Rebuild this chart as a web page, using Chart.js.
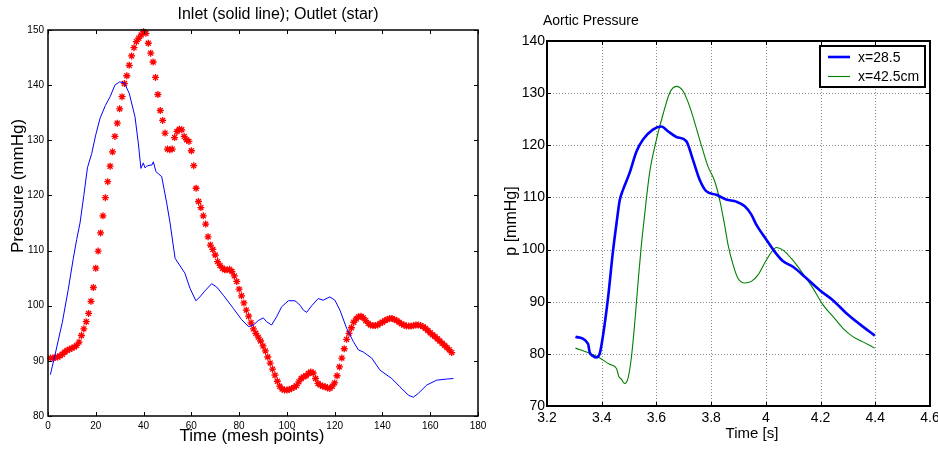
<!DOCTYPE html>
<html>
<head>
<meta charset="utf-8">
<script src="https://cdn.jsdelivr.net/npm/chart.js@4.4.0/dist/chart.umd.min.js"></script>
<style>
  html, body { margin: 0; padding: 0; background: #fff; }
  #wrap { position: relative; width: 938px; height: 449px; overflow: hidden; }
  canvas { position: absolute; top: 0; }
  #left { left: 0; width: 495px; height: 449px; }
  #right { left: 495px; width: 443px; height: 449px; }
</style>
</head>
<body>
<div id="wrap">
  <canvas id="left" width="495" height="449"></canvas>
  <canvas id="right" width="443" height="449"></canvas>
</div>
<script>
// left panel: inlet (line) vs outlet (stars), x = mesh point index
const meshTicks = [0, 20, 40, 60, 80, 100, 120, 140, 160, 180];
const pressureTicks = [80, 90, 100, 110, 120, 130, 140, 150];

const inletT = [1, 3, 6, 8.5, 10.6, 12, 13.4, 15, 16.5, 18.3, 20, 21.8, 24, 26, 28, 30, 32, 34, 36.4,
  37.8, 38.9, 39.9, 40.6, 41.3, 42.7, 43.5, 44.1, 45.2, 47.6, 49.7, 51.1, 53.2, 57.3, 59.4, 61.9,
  63.6, 65.3, 68.5, 70.6, 73.4, 77.6, 81, 84, 86, 88, 90.1, 91.5, 93.6, 95.7, 97.8, 100.6, 103.4,
  105.5, 106.9, 108.3, 110.4, 113.1, 115.2, 118, 120.1, 122.2, 125, 127.8, 129.9, 132, 135.5, 139,
  143.9, 147.3, 150.8, 152.9, 155, 158.5, 162.7, 166.9, 169.7];
const inletP = [87.5, 91.2, 97, 103, 108.6, 112, 115, 120, 125, 127.6, 131, 134, 136.3, 137.9, 140, 140.6, 140.4, 138.5, 134.3,
  129.5, 124.9, 125.9, 125, 125.3, 125.5, 125.5, 126.1, 124.3, 123.4, 118.6, 115, 108.6, 105.9, 103.2, 100.9,
  101.6, 102.5, 104, 103.4, 101.9, 99.5, 97.5, 96.2, 96.5, 97.3, 97.8, 97.1, 96.5, 98, 99.8, 100.9, 100.9,
  100.1, 99.2, 98.8, 100, 101.3, 101, 101.6, 101, 99.2, 95.9, 93.5, 92, 91.6, 90.5, 88.3,
  86.8, 85.3, 83.8, 83.4, 84.1, 85.6, 86.5, 86.7, 86.8];

// outlet pressure at mesh points 1..169
const outletP = [
  90.5, 90.5, 90.6, 90.7, 90.9, 91.2, 91.6, 91.9, 92.1, 92.3,
  92.5, 92.8, 93.4, 94.6, 95.8, 97.1, 98.6, 100.8, 103.3, 106.8,
  109.9, 113.2, 116.3, 119.6, 122.5, 125.3, 127.9, 130.7, 133.1, 135.7,
  137.9, 140.3, 141.7, 143.6, 145.3, 146.8, 147.9, 148.5, 149.1, 149.7,
  149.4, 147.6, 145.8, 144.2, 141.4, 138.3, 135.4, 133.6, 131.3, 128.4,
  128.3, 128.4, 130.5, 131.6, 132.0, 131.9, 130.7, 130.1, 129.8, 128.1,
  125.4, 121.3, 118.9, 117.8, 116.3, 114.8, 112.5, 111.0, 110.2, 109.2,
  108.0, 107.3, 106.8, 106.5, 106.5, 106.6, 106.2, 105.4, 104.4, 103.0,
  101.8, 100.5, 99.2, 98.1, 96.9, 95.8, 95.0, 94.3, 93.6, 92.7,
  91.8, 90.7, 89.6, 88.5, 87.4, 86.3, 85.4, 84.9, 84.7, 84.7,
  84.8, 85.0, 85.2, 85.5, 86.2, 86.8, 87.1, 87.3, 87.7, 88.0,
  87.8, 86.8, 85.9, 85.6, 85.4, 85.3, 85.1, 85.0, 85.4, 86.0,
  87.3, 88.9, 90.5, 92.2, 93.9, 95.0, 96.0, 97.0, 97.6, 98.0,
  98.1, 97.8, 97.3, 96.8, 96.5, 96.4, 96.4, 96.5, 96.8, 97.0,
  97.3, 97.5, 97.7, 97.7, 97.5, 97.3, 97.0, 96.7, 96.5, 96.3,
  96.3, 96.3, 96.4, 96.5, 96.5, 96.4, 96.2, 95.9, 95.5, 95.1,
  94.7, 94.4, 94.0, 93.6, 93.2, 92.8, 92.4, 92.0, 91.5];
const outletMesh = outletP.map((_, i) => i + 1);

// right panel: aortic pressure at two positions
const timeTicks = [3.2, 3.4, 3.6, 3.8, 4, 4.2, 4.4, 4.6];
const aorticTicks = [70, 80, 90, 100, 110, 120, 130, 140];

const t285 = [3.304, 3.35, 3.356, 3.368, 3.38, 3.393, 3.405, 3.423, 3.441, 3.454, 3.466, 3.478, 3.502,
  3.527, 3.551, 3.587, 3.618, 3.642, 3.673, 3.709, 3.733, 3.758, 3.782, 3.819, 3.855, 3.892, 3.923,
  3.947, 3.965, 4.002, 4.032, 4.062, 4.099, 4.142, 4.197, 4.245, 4.294, 4.343, 4.398];
const p285 = [83.3, 81.9, 80.3, 79.6, 79.3, 80.1, 83.6, 90.7, 99.6, 105, 109.5, 111.5, 114.7,
  118.8, 121.1, 123, 123.6, 122.7, 121.6, 120.8, 117.3, 113.4, 111.2, 110.5, 109.6, 109.2, 108.3,
  106.7, 104.8, 101.9, 99.6, 97.8, 96.7, 94.8, 92.2, 90.3, 87.8, 85.7, 83.5];

const t425 = [3.304, 3.356, 3.393, 3.429, 3.454, 3.463, 3.471, 3.484, 3.496, 3.508, 3.52, 3.533, 3.545,
  3.553, 3.575, 3.6, 3.624, 3.648, 3.673, 3.697, 3.721, 3.758, 3.788, 3.813, 3.831, 3.849, 3.862,
  3.88, 3.898, 3.923, 3.947, 3.972, 4.002, 4.039, 4.063, 4.093, 4.13, 4.172, 4.209, 4.245, 4.282,
  4.318, 4.355, 4.398];
const p425 = [81.1, 80.1, 79.2, 78, 77.2, 75.6, 75.2, 74.3, 75.3, 79.1, 85.5, 93.8, 100.9,
  104.8, 114.7, 121.1, 125.9, 130, 131.3, 130.4, 127.5, 121.1, 116, 113.1, 109.6, 104.8, 100.9,
  97.1, 94.5, 93.6, 93.9, 95.2, 98, 100.4, 99.9, 98.3, 95.8, 92.6, 89.4, 87.2, 84.9,
  83.3, 82.3, 81.1];

const FONT = "'Liberation Sans', Arial, sans-serif";
Chart.defaults.font.family = FONT;
Chart.defaults.color = '#000';

const pts = (xs, ys) => xs.map((x, i) => ({ x, y: ys[i] }));
const noPad = (s) => { s.paddingLeft = 0; s.paddingRight = 0; s.paddingTop = 0; s.paddingBottom = 0; };

// box, inward ticks and optional dotted grid
const frame = {
  id: 'frame',
  beforeDatasetsDraw(chart, args, o) {
    if (!o.grid) return;
    const { ctx, chartArea: a, scales: { x, y } } = chart;
    ctx.save();
    ctx.strokeStyle = '#8a8a8a';
    ctx.lineWidth = 1;
    ctx.setLineDash([1, 2]);
    ctx.beginPath();
    x.ticks.forEach((t) => {
      const px = Math.round(x.getPixelForValue(t.value)) + 0.5;
      ctx.moveTo(px, a.top); ctx.lineTo(px, a.bottom);
    });
    y.ticks.forEach((t) => {
      const py = Math.round(y.getPixelForValue(t.value)) + 0.5;
      ctx.moveTo(a.left, py); ctx.lineTo(a.right, py);
    });
    ctx.stroke();
    ctx.restore();
  },
  afterDatasetsDraw(chart, args, o) {
    const { ctx, chartArea: a, scales: { x, y } } = chart;
    const L = o.tick;
    ctx.save();
    ctx.strokeStyle = '#000';
    ctx.lineWidth = 1;
    ctx.beginPath();
    x.ticks.forEach((t) => {
      const px = Math.round(x.getPixelForValue(t.value)) + 0.5;
      ctx.moveTo(px, a.bottom); ctx.lineTo(px, a.bottom - L);
      ctx.moveTo(px, a.top); ctx.lineTo(px, a.top + L);
    });
    y.ticks.forEach((t) => {
      const py = Math.round(y.getPixelForValue(t.value)) + 0.5;
      ctx.moveTo(a.left, py); ctx.lineTo(a.left + L, py);
      ctx.moveTo(a.right, py); ctx.lineTo(a.right - L, py);
    });
    ctx.stroke();
    ctx.lineWidth = o.width;
    ctx.strokeRect(a.left, a.top, a.right - a.left, a.bottom - a.top);
    ctx.restore();
  }
};

const texts = {
  id: 'texts',
  afterDraw(chart, args, o) {
    const ctx = chart.ctx;
    o.items.forEach((it) => {
      ctx.save();
      ctx.font = it.font + ' ' + FONT;
      ctx.fillStyle = '#000';
      ctx.textAlign = it.align || 'center';
      ctx.textBaseline = 'middle';
      ctx.translate(it.x, it.y);
      if (it.rot) ctx.rotate(it.rot);
      ctx.fillText(it.text, 0, 0);
      ctx.restore();
    });
  }
};

const legendBox = {
  id: 'legendBox',
  afterDraw(chart, args, o) {
    const { ctx } = chart;
    const { x, y, w, h } = o;
    ctx.save();
    ctx.fillStyle = '#fff';
    ctx.fillRect(x, y, w, h);
    ctx.strokeStyle = '#000';
    ctx.lineWidth = 2;
    ctx.strokeRect(x, y, w, h);
    ctx.font = '14px ' + FONT;
    ctx.textBaseline = 'middle';
    chart.data.datasets.forEach((ds, i) => {
      const ly = y + 11 + i * 19.5;
      ctx.strokeStyle = ds.borderColor;
      ctx.lineWidth = ds.borderWidth;
      ctx.beginPath();
      ctx.moveTo(x + 8, ly); ctx.lineTo(x + 30, ly);
      ctx.stroke();
      ctx.fillStyle = '#000';
      ctx.fillText(ds.label, x + 38, ly + 1);
    });
    ctx.restore();
  }
};

const axis = (min, max, tickList, size, fitSize, horizontal, padding) => ({
  type: 'linear',
  min, max,
  afterBuildTicks: (s) => { s.ticks = tickList.map((v) => ({ value: v })); },
  afterFit: (s) => { if (horizontal) s.height = fitSize; else s.width = fitSize; noPad(s); },
  grid: { display: false, drawTicks: false },
  border: { display: false },
  ticks: { padding, font: { size }, color: '#000', maxRotation: 0, autoSkip: false, callback: (v) => String(v) }
});

new Chart(document.getElementById('left'), {
  type: 'line',
  data: {
    datasets: [
      { label: 'Inlet', data: pts(inletT, inletP), borderColor: '#0000ff', borderWidth: 1,
        pointRadius: 0, tension: 0 },
      { label: 'Outlet', data: pts(outletMesh, outletP), showLine: false, pointStyle: 'star',
        pointRadius: 3.5, borderColor: '#ff0000', backgroundColor: '#ff0000', borderWidth: 1.3, clip: false }
    ]
  },
  options: {
    responsive: false,
    animation: false,
    layout: { padding: { top: 30, right: 17, left: 0, bottom: 0 } },
    plugins: {
      legend: { display: false },
      tooltip: { enabled: false },
      frame: { tick: 4, width: 1.5, grid: false },
      texts: { items: [
        { text: 'Inlet (solid line); Outlet (star)', font: '16px', x: 278, y: 15 },
        { text: 'Time (mesh points)', font: '17px', x: 252, y: 436 },
        { text: 'Pressure (mmHg)', font: '17px', x: 18, y: 186, rot: -Math.PI / 2 }
      ] }
    },
    scales: {
      x: axis(0, 180, meshTicks, 10, 33, true, 4),
      y: axis(80, 150, pressureTicks, 10, 48, false, 4)
    }
  },
  plugins: [frame, texts]
});

new Chart(document.getElementById('right'), {
  type: 'line',
  data: {
    datasets: [
      { label: 'x=28.5', data: pts(t285, p285), borderColor: '#0000ff', borderWidth: 2.6,
        pointRadius: 0, cubicInterpolationMode: 'monotone' },
      { label: 'x=42.5cm', data: pts(t425, p425), borderColor: '#008000', borderWidth: 1.1,
        pointRadius: 0, cubicInterpolationMode: 'monotone' }
    ]
  },
  options: {
    responsive: false,
    animation: false,
    layout: { padding: { top: 41, right: 8, left: 0, bottom: 0 } },
    plugins: {
      legend: { display: false },
      tooltip: { enabled: false },
      frame: { tick: 4, width: 2, grid: true },
      legendBox: { x: 325, y: 46, w: 105, h: 41 },
      texts: { items: [
        { text: 'Aortic Pressure', font: '14px', x: 48, y: 21, align: 'left' },
        { text: 'Time [s]', font: '15px', x: 257, y: 434 },
        { text: 'p [mmHg]', font: '16px', x: 17, y: 221, rot: -Math.PI / 2 }
      ] }
    },
    scales: {
      x: axis(3.2, 4.6, timeTicks, 14, 43, true, 4),
      y: axis(70, 140, aorticTicks, 14, 52, false, 2)
    }
  },
  plugins: [frame, texts, legendBox]
});
</script>
</body>
</html>
